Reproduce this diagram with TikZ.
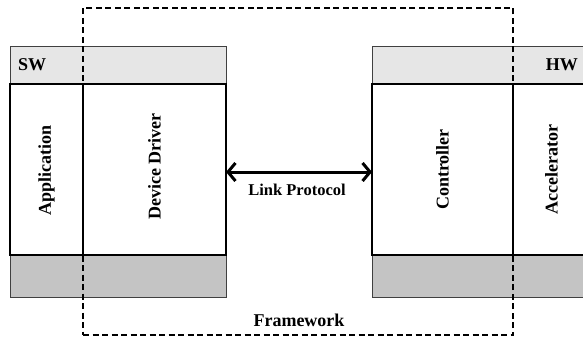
\documentclass[tikz,border=0pt]{standalone}
\usepackage{fontspec}
\setmainfont{Liberation Serif}
\usetikzlibrary{arrows.meta}
\definecolor{bandtop}{HTML}{E6E6E6}
\definecolor{bandbot}{HTML}{C4C4C4}
\begin{document}
\begin{tikzpicture}[x=1pt,y=-1pt,
  band/.style={draw=black!75, line width=0.9pt, anchor=north west, inner sep=0pt, outer sep=0pt},
  topband/.style={band, fill=bandtop, minimum height=38pt},
  botband/.style={band, fill=bandbot, minimum height=42pt},
  unit/.style={draw=black, line width=1.8pt, fill=white, anchor=north west,
    inner sep=0pt, outer sep=0pt, minimum height=171pt},
  vlabel/.style={font=\fontsize{18}{20}\selectfont\bfseries, rotate=90, inner sep=0pt},
  hlabel/.style={font=\fontsize{18}{20}\selectfont\bfseries, inner sep=0pt},
  frame/.style={draw=black, line width=1.8pt, dash pattern=on 6pt off 3.5pt,
    anchor=north west, inner sep=0pt, outer sep=0pt},
  link/.style={line width=3pt,
    {Straight Barb[length=7.5pt,width=18pt]}-{Straight Barb[length=7.5pt,width=18pt]}}
]
\useasboundingbox (0,0) rectangle (583,337);

% software side
\node[topband, minimum width=216pt] (swbar) at (10,46) {};
\node[botband, minimum width=216pt] (swbase) at (10,255) {};
\node[unit, minimum width=73pt] (app) at (10,84) {};
\node[unit, minimum width=143pt] (drv) at (83,84) {};
\node[hlabel, anchor=west] (swtext) at (18,65) {SW};
\node[vlabel] (applbl) at ([yshift=-1pt]app.center) {Application};
\node[vlabel] (drvlbl) at ([yshift=3pt]drv.center) {Device Driver};

% hardware side
\node[topband, minimum width=220pt] (hwbar) at (372,46) {};
\node[botband, minimum width=220pt] (hwbase) at (372,255) {};
\node[unit, minimum width=141pt] (ctrl) at (372,84) {};
\node[unit, minimum width=77pt] (acc) at (513,84) {};
\node[hlabel, anchor=east] (hwtext) at (578,65) {HW};
\node[vlabel] (ctrllbl) at (ctrl.center) {Controller};
\node[vlabel] (acclbl) at (acc.center) {Accelerator};

% framework boundary
\node[frame, minimum width=430pt, minimum height=327pt] (fw) at (83,8) {};
\node[hlabel] (fwlbl) at (299,320) {Framework};

% link between driver and controller
\draw[link] ([yshift=-2.5pt]drv.east) -- ([yshift=-2.5pt]ctrl.west);
\node[font=\fontsize{16.5}{18}\selectfont\bfseries, inner sep=0pt] (linklbl) at (297,190) {Link Protocol};
\end{tikzpicture}
\end{document}
